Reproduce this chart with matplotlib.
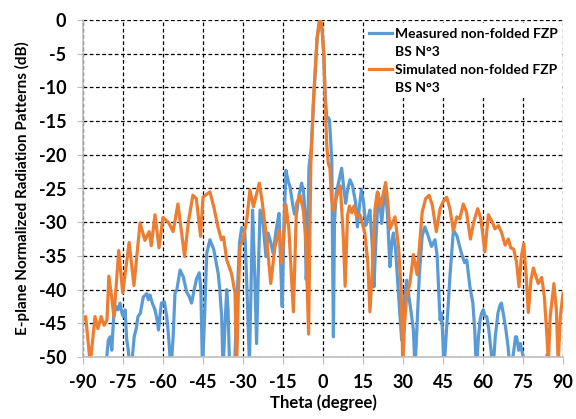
import matplotlib
matplotlib.use("Agg")
import matplotlib.pyplot as plt
from matplotlib.lines import Line2D

plt.rcParams['font.family'] = ['Lato', 'DejaVu Sans']
plt.rcParams['axes.unicode_minus'] = False

# Measured pattern (theta in degree, level in dB)
meas_theta = [-90, -82, -81.1, -80.5, -79.8, -79.2, -78.5, -77.6, -76.9, -76.1, -75.4, -74.9,
              -74.2, -73.6, -73, -72.4, -71.5, -70.8, -69.9, -69.4, -68.5, -67.4, -66.1, -65.5,
              -64.9, -64, -63, -62.2, -61.7, -60.6, -59.5, -58.6, -57.9, -57, -56.2, -55.5,
              -54.8, -53.6, -52.4, -51.1, -50.2, -49.3, -48.3, -47.4, -46.4, -45.8, -45.2,
              -44.5, -43.6, -42.4, -41, -39.3, -38.7, -38, -37.5, -36.6, -36.1, -35.6, -35,
              -34, -33.2, -32.3, -31.3, -30.5, -29.3, -28.5, -27.6, -27, -26.4, -25.6, -24.9,
              -24.3, -23.6, -22.5, -21.4, -20.6, -19.6, -18.7, -17.5, -16.5, -15.9, -15.3,
              -14.6, -13.9, -13, -12.4, -11.5, -10.7, -9.9, -9, -8, -7.3, -6.8, -6.3, -5.9,
              -5.25, -4.4, -3.6, -3, -2.2, -1.4, -0.9, -0.3, 0.3, 0.8, 1.4, 2.0, 2.4, 2.9, 3.3,
              3.6, 3.9, 4.3, 4.9, 5.9, 7, 7.8, 8.5, 9.3, 10.1, 11, 12.2, 12.9, 13.7, 14.4,
              15.2, 16, 16.8, 17.6, 18.4, 19.1, 19.7, 20.7, 21.3, 22, 22.7, 23.3, 24.2, 25.1,
              25.8, 26.4, 27.2, 28.2, 29.5, 30.1, 30.6, 31.4, 32.2, 33.1, 33.9, 34.5, 35.3,
              36.1, 37.2, 38.2, 39.5, 40.7, 42, 42.8, 43.5, 43.9, 44.4, 44.8, 45.4, 46.3, 47,
              47.6, 48.9, 50.2, 51.9, 53.1, 53.9, 55.1, 56.2, 56.9, 57.5, 58.3, 58.9, 59.5,
              60.1, 60.8, 61.4, 62.2, 63, 63.75, 64.6, 65.6, 66.4, 66.9, 67.8, 68.6, 69.4,
              70.2, 71.4, 72.2, 72.6, 73.4, 74, 75.1, 75.6, 83.6, 84.1, 84.6, 90]
meas_db = [-55, -55, -50, -47.5, -47, -49, -44, -42.5, -43, -42, -43.5, -44,
           -43, -47.5, -49, -52, -50, -47, -45.5, -44, -43.5, -41.1, -40.6, -41.5,
           -40.8, -42, -43, -44.5, -46, -42, -41.8, -44, -47, -52, -47, -40.5,
           -40, -37.1, -38.1, -40.4, -41, -42, -40, -38.4, -37.5, -40, -52,
           -45, -34.6, -32.6, -34, -37.6, -40, -44, -52, -44, -40, -43, -52,
           -52, -52, -42, -33, -30.8, -31.6, -40, -51, -40, -28.2, -38, -48,
           -38, -28.2, -30, -35.1, -31.6, -33, -34.6, -31, -28.7, -36, -42.5,
           -30, -22.3, -24, -24.7, -27, -28.8, -28.7, -26, -24.2, -25.5, -28.2, -38.5, -35,
           -21.8, -19, -12.5, -8.3, -2.8, -0.5, -0.2, -1.7, -5.2, -11, -14.5, -14.5, -14.8, -18, -21,
           -35, -47, -30, -25.8, -24, -22, -25, -27.2, -25, -23.7, -24.5, -27, -30.7, -27.5, -25.2,
           -27, -30.5, -29.5, -28.2, -33, -39.6, -34, -25.7, -27, -30.2, -27, -24.7, -29, -36.6,
           -33, -31.6, -34, -40, -47.5, -43, -41, -38.6, -41, -43.5, -46, -52, -45,
           -38, -32, -30.7, -32.1, -33.6, -32.6, -35, -41, -44.5, -43.5, -46, -52, -46, -42,
           -38, -31.2, -32, -34.6, -36, -35.6, -39.6, -42, -46, -52, -47, -44.5, -43.5,
           -43, -44, -44, -46, -49, -52, -47, -43.5, -42.3, -42, -44, -46, -48.5,
           -52, -49.5, -47, -47, -49, -48, -50, -52, -52, -49.6, -52, -52]

# Simulated pattern
sim_theta = [-90, -89, -88, -87.3, -86.5, -85.5, -84.4, -83.2, -82.1, -81, -80.3, -79.3, -78.4,
             -76.6, -75.1, -72.7, -70.9, -68.6, -66.8, -65.2, -64.4, -63, -61.5, -60, -58,
             -56.2, -54.4, -51.9, -50.5, -48.8, -47.5, -45.9, -45, -43.8, -42.4, -40.8, -39.4,
             -38.1, -37.3, -36.1, -34.3, -33, -32.4, -31.7, -31.1, -30, -28.6, -27.4, -26.1,
             -23.9, -22.8, -21.1, -19.6, -18, -16.4, -15.5, -13.9, -12.8, -11.1, -9.9, -8.6,
             -7.4, -6.5, -5.4, -4.6, -3.6, -3, -2.2, -1.4, -0.9, -0.3, 0.3, 0.8, 1.4, 2, 2.6,
             3.2, 3.9, 5.1, 6.5, 7.6, 8.3, 9.2, 9.9, 10.8, 11.6, 12.6, 13.9, 15.7, 16.8, 17.6,
             18.5, 19.5, 20.4, 21.5, 23.5, 24.3, 25.1, 27, 28.3, 29.3, 29.9, 30.6, 31.4, 32.6,
             33.9, 35.3, 37.2, 38.5, 39.8, 41, 42.5, 43.9, 45, 46.4, 47.6, 48.9, 50.2, 51.3,
             52.6, 53.8, 55.3, 56.5, 58, 59.2, 60.7, 62, 63.5, 64.5, 65.8, 67, 68.3, 69.5,
             70.4, 71.5, 72.6, 73.5, 74.4, 75.3, 76.2, 77, 78, 78.9, 79.8, 80.7, 82, 83, 84,
             84.5, 85.2, 86.6, 87.5, 88.2, 89, 90]
sim_db = [-44.5, -44, -48, -51, -48, -44, -45.8, -44, -45.3, -44.5, -38, -41, -44,
          -34.2, -40.5, -33, -39.4, -30.1, -32.7, -31.4, -33.5, -28.9, -33.8, -29.3, -30,
          -31.4, -27.3, -35.1, -30, -26, -26.5, -32.1, -26.3, -25.9, -25.5, -28, -30.7,
          -32.6, -32.2, -35.6, -37.6, -40.5, -52, -40, -33.6, -32.6, -29.7, -25.2, -27.7,
          -24.2, -27, -32.6, -39.1, -33.6, -31.2, -36.1, -27.4, -31, -43.3, -27.2, -26,
          -28.2, -32, -46.6, -22, -12, -8, -2.5, -0.2, 0, -1.5, -5, -12, -18.5, -21.3, -22,
          -26.5, -28.3, -26.2, -24.6, -32, -39.5, -29, -27.6, -28.6, -27.6, -29.2, -28.9, -31.6, -36, -43.3,
          -37, -28, -25.5, -27.8, -24.1, -27, -31, -29.2, -33.6, -40, -51, -45, -41, -39,
          -34.8, -37.8, -28.5, -26.5, -26, -27.5, -31.4, -28, -27, -26.3, -28, -31.3, -29.2, -29.5,
          -27.3, -28.5, -32.5, -30, -28, -29.5, -34.4, -28.9, -30, -31, -30.5, -31.6, -33.4, -32.5,
          -33.8, -34, -36, -39.6, -35, -33.2, -38, -43.4, -38.5, -36.8, -38, -39.1, -38.2, -41, -47,
          -51, -44, -39.1, -43, -51, -44, -40.6]

x_ticks = list(range(-90, 91, 15))
y_ticks = list(range(-50, 1, 5))

blue = "#5B9BD5"
orange = "#ED7D31"

fig = plt.figure(figsize=(5.76, 4.19), dpi=100)
ax = fig.add_axes([83 / 576, 1 - 357 / 419, 480 / 576, 337 / 419])

l1, = ax.plot(meas_theta, meas_db, color=blue, lw=2.3, solid_joinstyle='round')
l2, = ax.plot(sim_theta, sim_db, color=orange, lw=2.3, solid_joinstyle='round')

ax.set_xlim(-90, 90)
ax.set_ylim(-50, 0)
ax.set_xticks(x_ticks)
ax.set_yticks(y_ticks)
ax.grid(True, color="black", linestyle=(0, (3, 2)), linewidth=0.9)
ax.set_axisbelow(True)

for s in ["top", "right"]:
    ax.spines[s].set_visible(False)
for s in ["left", "bottom"]:
    ax.spines[s].set_color("#BFBFBF")
    ax.spines[s].set_linewidth(1.2)

ax.tick_params(axis="x", length=5, color="#BFBFBF", pad=7, labelsize=13)
ax.tick_params(axis="y", length=4, color="#BFBFBF", pad=8, labelsize=13)
for lab in ax.get_xticklabels() + ax.get_yticklabels():
    lab.set_fontweight("bold")

ax.set_xlabel("Theta (degree)", fontsize=12, fontweight="bold", labelpad=3)
ax.set_ylabel("E-plane Normalized Radiation Patterns (dB)", fontsize=11,
              fontweight="bold", labelpad=6)

blank = Line2D([], [], color="none")
leg = ax.legend([l1, blank, l2, blank],
                ["Measured non-folded FZP", "BS N°3", "Simulated non-folded FZP", "BS N°3"],
                loc="upper right", bbox_to_anchor=(0.998, 0.99), borderaxespad=0,
                prop={"weight": "bold", "size": 10}, handlelength=1.6, handletextpad=0.25,
                labelspacing=0.45, borderpad=0.3, frameon=True, fancybox=False,
                facecolor="white", edgecolor="none", framealpha=1)

fig.savefig("out.png", dpi=100)
